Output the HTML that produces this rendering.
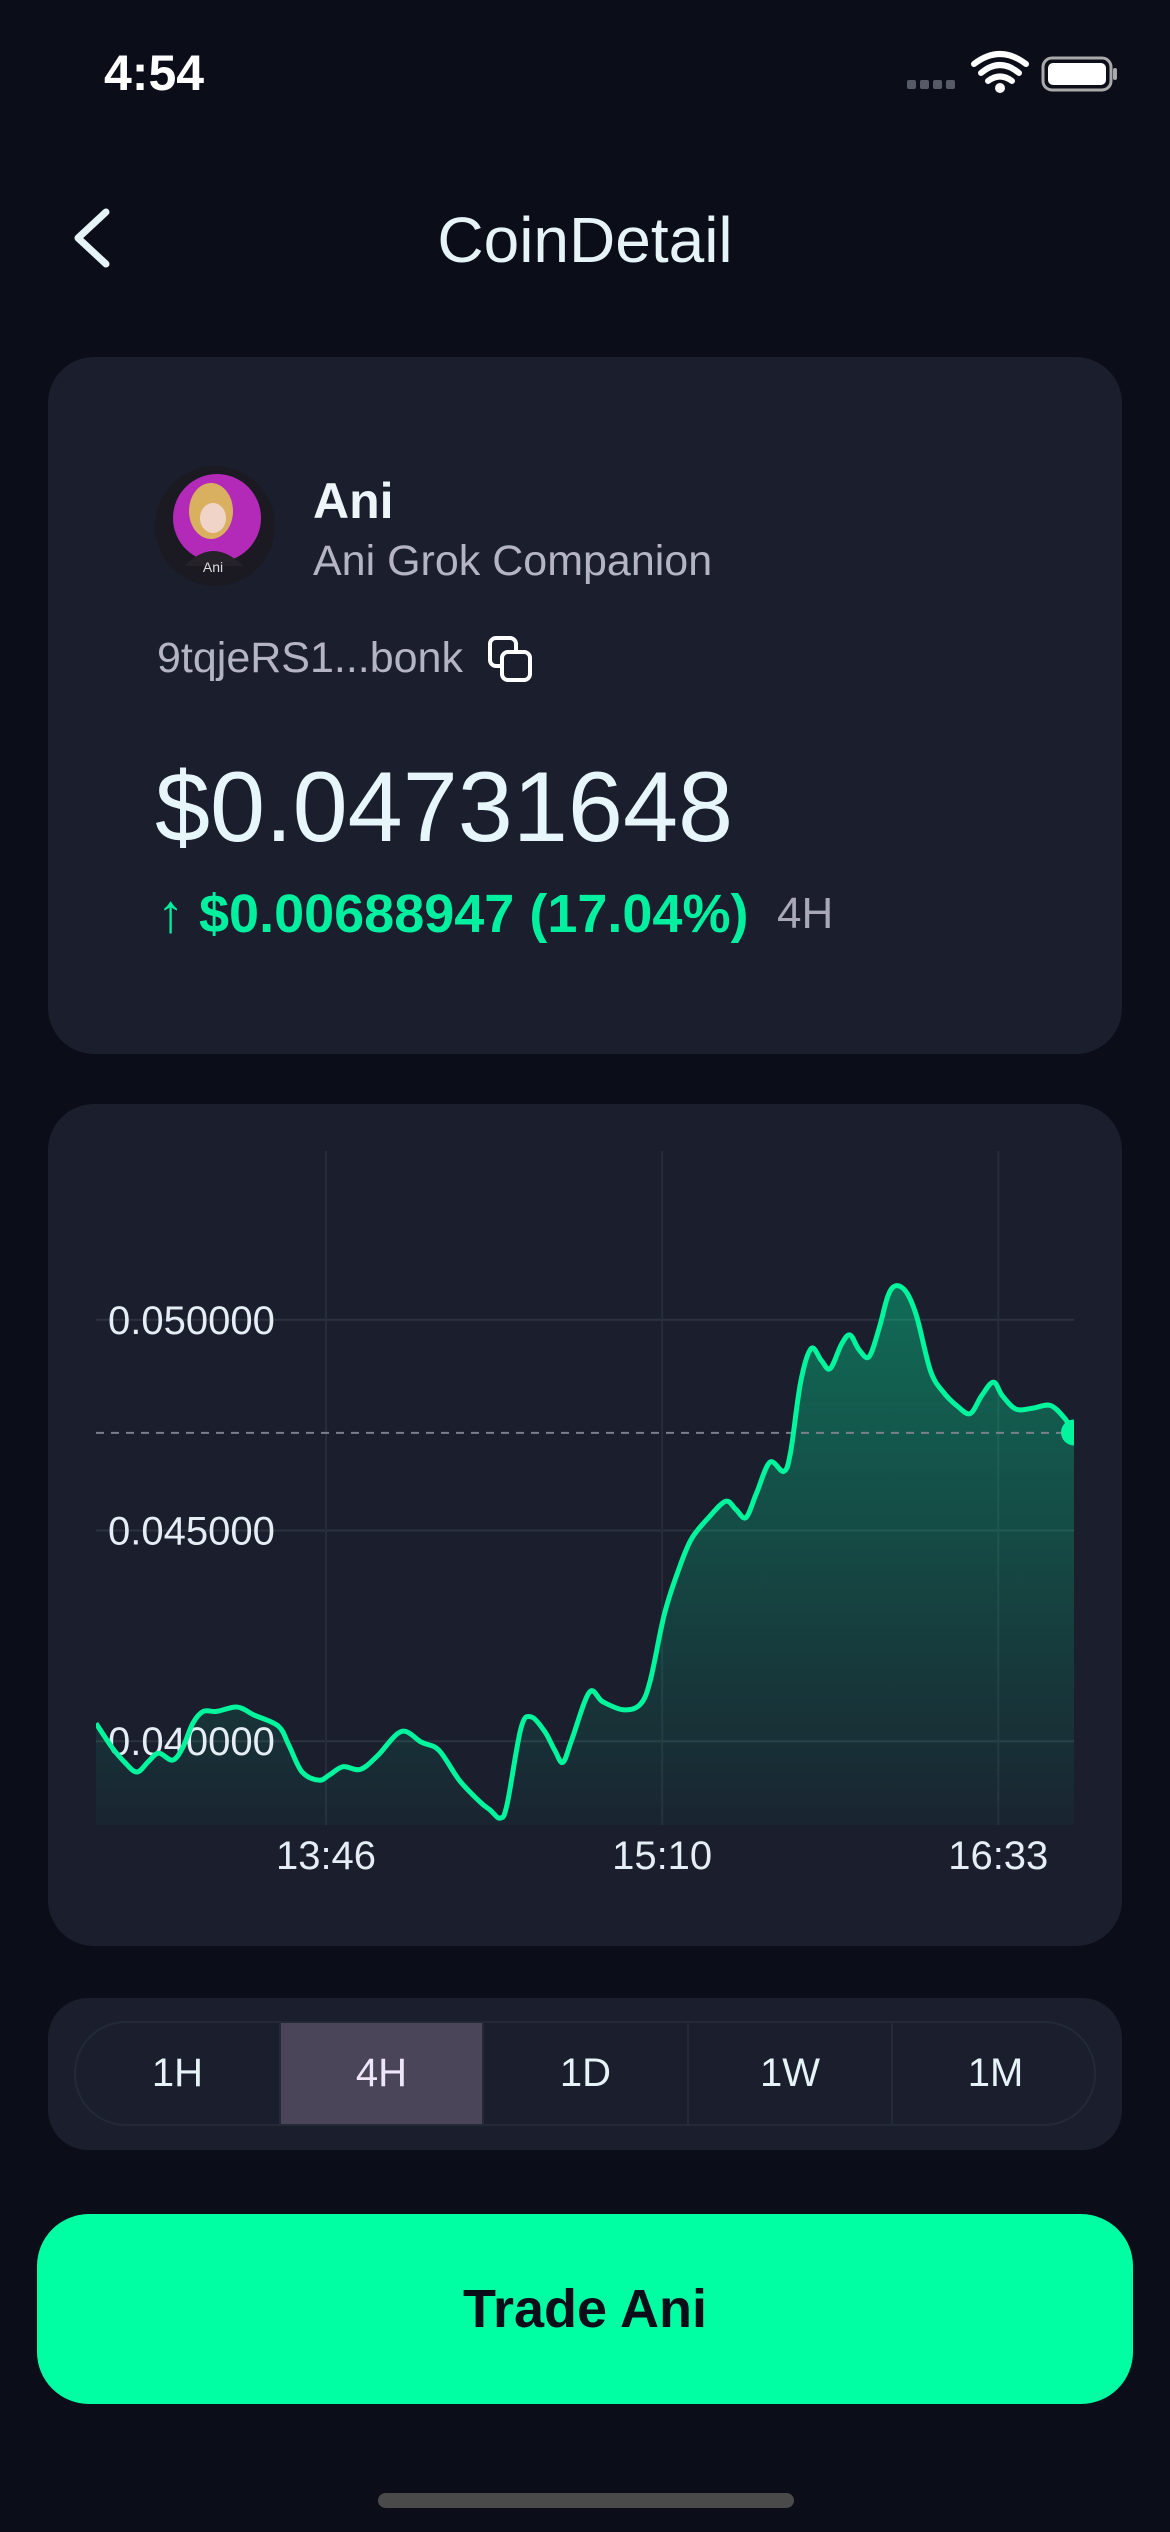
<!DOCTYPE html>
<html><head><meta charset="utf-8">
<style>
*{margin:0;padding:0;box-sizing:border-box}
body{width:1170px;height:2532px;background:#0b0e19;font-family:"Liberation Sans",sans-serif;position:relative;overflow:hidden;color:#e6f4f8}
.abs{position:absolute}
.card{position:absolute;background:#1a1e2d;border-radius:46px}
.seg{position:absolute;top:0;height:100%;display:flex;align-items:center;justify-content:center;font-size:40px;color:#e6f4f8;border-right:2px solid #232a36}
</style></head>
<body>
<div class="abs" style="left:104px;top:44px;font-size:50px;font-weight:bold;color:#fff">4:54</div>
<svg class="abs" style="left:900px;top:48px" width="220" height="50">
<g fill="#555a66"><rect x="7" y="32" width="9" height="9" rx="2"/><rect x="20" y="32" width="9" height="9" rx="2"/><rect x="33" y="32" width="9" height="9" rx="2"/><rect x="46" y="32" width="9" height="9" rx="2"/></g>
<path d="M74 16 Q100 -4 126 16 M81 25 Q100 9 119 25 M88 33 Q100 24 112 33" stroke="#fff" stroke-width="6" fill="none" stroke-linecap="round"/><circle cx="100" cy="40" r="5" fill="#fff"/>
<rect x="143" y="10" width="68" height="32" rx="9" fill="none" stroke="#aaa" stroke-width="3"/><rect x="148" y="15" width="58" height="22" rx="5" fill="#fff"/><rect x="213" y="20" width="4" height="12" rx="2" fill="#aaa"/>
</svg>
<svg class="abs" style="left:66px;top:206px" width="50" height="64"><path d="M40 6 L12 32 L40 58" stroke="#e6f4f8" stroke-width="7" fill="none" stroke-linecap="round" stroke-linejoin="round"/></svg>
<div class="abs" style="left:0;width:1170px;top:203px;text-align:center;font-size:64px;color:#e6f4f8">CoinDetail</div>

<div class="card" style="left:48px;top:357px;width:1074px;height:697px"></div>
<svg class="abs" style="left:155px;top:466px" width="120" height="120">
<circle cx="60" cy="60" r="60" fill="#1b1a22"/><circle cx="62" cy="52" r="44" fill="#b32ab8"/>
<ellipse cx="56" cy="45" rx="22" ry="28" fill="#d8b060"/><ellipse cx="58" cy="52" rx="13" ry="15" fill="#f0d4c8"/><path d="M30 100 Q58 70 88 100 Z" fill="#25222a"/>
<text x="58" y="106" font-size="14" fill="#ddd" text-anchor="middle" font-family="Liberation Sans">Ani</text></svg>
<div class="abs" style="left:313px;top:472px;font-size:50px;font-weight:bold;color:#eef6fa">Ani</div>
<div class="abs" style="left:313px;top:537px;font-size:43px;color:#b4b4c4">Ani Grok Companion</div>
<div class="abs" style="left:157px;top:634px;font-size:43px;color:#b4b4c4">9tqjeRS1...bonk</div>
<svg class="abs" style="left:486px;top:634px" width="50" height="52"><rect x="4" y="4" width="26" height="28" rx="6" fill="none" stroke="#fff" stroke-width="4"/><rect x="16" y="18" width="28" height="28" rx="6" fill="#1a1e2d" stroke="#fff" stroke-width="4"/></svg>
<div class="abs" style="left:155px;top:750px;font-size:99px;color:#e6f6fa">$0.04731648</div>
<div class="abs" style="left:157px;top:883px;font-size:54px;font-weight:bold;color:#00f0a0">↑ $0.00688947 (17.04%)</div>
<div class="abs" style="left:777px;top:889px;font-size:44px;color:#a8a8b8">4H</div>

<div class="card" style="left:48px;top:1104px;width:1074px;height:842px"></div>
<svg id="chart" class="abs" style="left:0;top:0" width="1170" height="2532"></svg>

<div class="card" style="left:48px;top:1998px;width:1074px;height:152px;border-radius:40px"></div>
<div class="abs" style="left:74px;top:2021px;width:1022px;height:105px;border:2px solid #232a36;border-radius:52px;overflow:hidden">
<div class="seg" style="left:0;width:205px">1H</div>
<div class="seg" style="left:205px;width:203px;background:#4a4559;color:#f0e6fa">4H</div>
<div class="seg" style="left:408px;width:205px">1D</div>
<div class="seg" style="left:613px;width:204px">1W</div>
<div class="seg" style="left:817px;width:205px;border-right:none">1M</div>
</div>
<div class="abs" style="left:37px;top:2214px;width:1096px;height:190px;background:#00ffa3;border-radius:52px;display:flex;align-items:center;justify-content:center;font-size:54px;font-weight:bold;color:#0b0e19">Trade Ani</div>
<div class="abs" style="left:378px;top:2493px;width:416px;height:15px;border-radius:8px;background:#4a4a4a"></div>

<script>
const times=[0,4.0,7.1,10.1,13.0,15.5,18.9,21.4,23.9,26.5,29.8,34.9,39.1,45.0,47.6,50.9,55.1,57.7,61.0,65.3,69.5,75.4,80.4,84.7,89.7,94.8,97.3,99.8,101.5,104.9,107.4,110.8,113.3,115.3,117.5,121.8,125.1,130.2,134.4,136.9,140.3,143.7,147.0,151.3,155.5,158.0,160.5,163.1,166.4,169.8,171.5,174.0,176.6,179.1,181.3,184.1,186.2,188.4,190.9,193.4,195.6,197.6,200.2,202.7,206.1,209.4,212.8,215.9,218.7,221.6,223.8,227.2,231.4,235.6,239.0,241.5];
const prices=[0.040424,0.039846,0.039499,0.039268,0.039525,0.039718,0.039551,0.039846,0.040424,0.040707,0.040707,0.040810,0.040617,0.040360,0.039910,0.039268,0.039075,0.039203,0.039396,0.039332,0.039653,0.040231,0.039974,0.039782,0.039075,0.038561,0.038368,0.038175,0.038496,0.040296,0.040579,0.040231,0.039782,0.039499,0.040039,0.041157,0.040939,0.040746,0.040874,0.041453,0.042995,0.044024,0.044795,0.045309,0.045694,0.045501,0.045309,0.045887,0.046620,0.046401,0.046851,0.048522,0.049319,0.049036,0.048843,0.049422,0.049640,0.049293,0.049126,0.049807,0.050578,0.050810,0.050643,0.050064,0.048779,0.048265,0.047944,0.047776,0.048201,0.048522,0.048201,0.047879,0.047905,0.047969,0.047686,0.047327];
const yTicks=[0.040,0.045,0.050];
const yTickLabels=["0.040000","0.045000","0.050000"];
const xTicks=[56.8,139.8,222.8];
const xTickLabels=["13:46","15:10","16:33"];
const currentPrice=0.04731648;

const L=96,R=1074,T=1151,B=1825;
const tMin=0,tMax=241.5;
const x=t=>L+(t-tMin)/(tMax-tMin)*(R-L);
const y=v=>1741.2-(v-0.04)/0.005*210.7;
const svg=document.getElementById('chart');
const NS='http://www.w3.org/2000/svg';
function mk(tag,attrs){const e=document.createElementNS(NS,tag);for(const k in attrs)e.setAttribute(k,attrs[k]);svg.appendChild(e);return e;}
const defs=mk('defs',{});
defs.innerHTML='<linearGradient id="fg" x1="0" y1="0" x2="0" y2="1"><stop offset="0" stop-color="#00f5a0" stop-opacity="0.36"/><stop offset="1" stop-color="#00f5a0" stop-opacity="0.03"/></linearGradient><clipPath id="cp"><rect x="'+L+'" y="'+T+'" width="'+(R-L)+'" height="'+(B-T)+'"/></clipPath>';
yTicks.forEach((v,i)=>{
 const g=mk('line',{x1:L,x2:R,y1:y(v),y2:y(v),stroke:'#2c3240','stroke-width':2});
 
 
});
xTicks.forEach((t,i)=>{
 const g=mk('line',{x1:x(t),x2:x(t),y1:T,y2:B,stroke:'#262c3a','stroke-width':2});
 
 
 const lb=mk('text',{x:x(t),y:1869,'text-anchor':'middle','font-size':40,fill:'#e6eef5','font-family':'Liberation Sans'});
 lb.textContent=xTickLabels[i];
 
 
});
const pts=times.map((t,i)=>[x(t),y(prices[i])]);
let d='M'+pts[0][0]+' '+pts[0][1];
for(let i=0;i<pts.length-1;i++){
 const p0=pts[Math.max(0,i-1)],p1=pts[i],p2=pts[i+1],p3=pts[Math.min(pts.length-1,i+2)];
 const c1=[p1[0]+(p2[0]-p0[0])/6,p1[1]+(p2[1]-p0[1])/6],c2=[p2[0]-(p3[0]-p1[0])/6,p2[1]-(p3[1]-p1[1])/6];
 d+=' C'+c1[0]+' '+c1[1]+' '+c2[0]+' '+c2[1]+' '+p2[0]+' '+p2[1];
}
const area=mk('path',{d:d+' L'+pts[pts.length-1][0]+' '+B+' L'+pts[0][0]+' '+B+' Z',fill:'url(#fg)','clip-path':'url(#cp)'});


const dash=mk('line',{x1:L,x2:R,y1:y(currentPrice),y2:y(currentPrice),stroke:'#7a7f8c','stroke-width':2,'stroke-dasharray':'8 7'});


yTicks.forEach((v,i)=>{
 const lb=mk('text',{x:108,y:y(v)+14,'font-size':40,fill:'#e6eef5','font-family':'Liberation Sans'});
 lb.textContent=yTickLabels[i];
 
 
});
const line=mk('path',{d:d,fill:'none',stroke:'#00f59c','stroke-width':5,'stroke-linejoin':'round','clip-path':'url(#cp)'});


const last=pts[pts.length-1];
const dot=mk('circle',{cx:last[0],cy:last[1],r:13,fill:'#00f59c','clip-path':'url(#cp)'});


</script>
</body></html>
